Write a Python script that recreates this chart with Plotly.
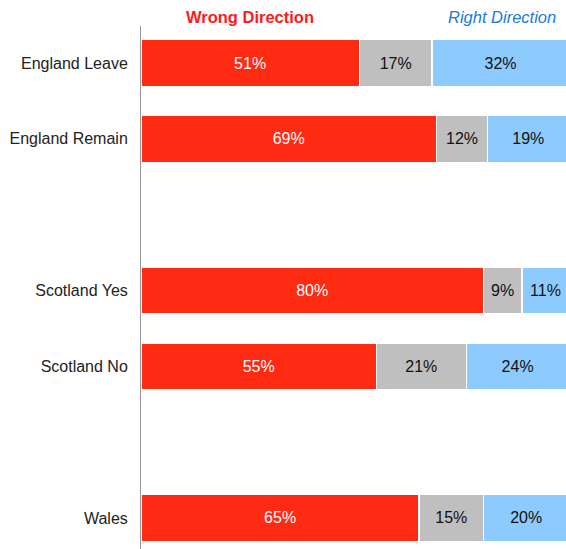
import plotly.graph_objects as go

categories = ["England Leave", "England Remain", " ", "Scotland Yes", "Scotland No", "  ", "Wales"]
groups = ["England Leave", "England Remain", "Scotland Yes", "Scotland No", "Wales"]
wrong = [51, 69, 80, 55, 65]
dont_know = [17, 12, 9, 21, 15]
right = [32, 19, 11, 24, 20]

series = [
    ("Wrong Direction", wrong, "#FF2A12", "white"),
    ("Don't know", dont_know, "#BFBFBF", "#111111"),
    ("Right Direction", right, "#8DCBFF", "#111111"),
]

fig = go.Figure()
for name, vals, color, tcolor in series:
    fig.add_trace(go.Bar(
        y=groups, x=vals, orientation="h", name=name,
        marker=dict(color=color, line=dict(color="white", width=1.5)),
        text=[f"{v}%" for v in vals], textposition="inside",
        insidetextanchor="middle", constraintext="none",
        textfont=dict(color=tcolor, size=16, family="Liberation Sans, Arial"),
        width=0.62, showlegend=False, hoverinfo="skip",
    ))

fig.update_layout(
    barmode="stack", width=566, height=549,
    margin=dict(l=141, r=0, t=26, b=0),
    paper_bgcolor="white", plot_bgcolor="white",
    font=dict(family="Liberation Sans, Arial", size=16, color="#222222"),
    xaxis=dict(range=[0, 99.3], visible=False, fixedrange=True),
    yaxis=dict(type="category", categoryarray=categories, categoryorder="array",
               range=[6.41, -0.488], showline=True, linecolor="#999999", linewidth=1,
               showgrid=False, ticks="", ticklabelstandoff=9, zeroline=False,
               fixedrange=True, tickfont=dict(size=16, color="#222222")),
    uniformtext=dict(mode=False),
    annotations=[
        dict(text="<b>Wrong Direction</b>", x=0.256, y=1, xref="paper", yref="paper",
             xanchor="center", yanchor="bottom", yshift=-2, showarrow=False,
             font=dict(color="#FF1A1A", size=16.5)),
        dict(text="<i>Right Direction</i>", x=0.849, y=1, xref="paper", yref="paper",
             xanchor="center", yanchor="bottom", yshift=-2, showarrow=False,
             font=dict(color="#1A7AD4", size=16.5)),
    ],
)

fig.write_html(
    "out.html",
    config={"displayModeBar": False},
    post_script="document.body.style.margin='0';document.body.style.overflow='hidden';",
)
